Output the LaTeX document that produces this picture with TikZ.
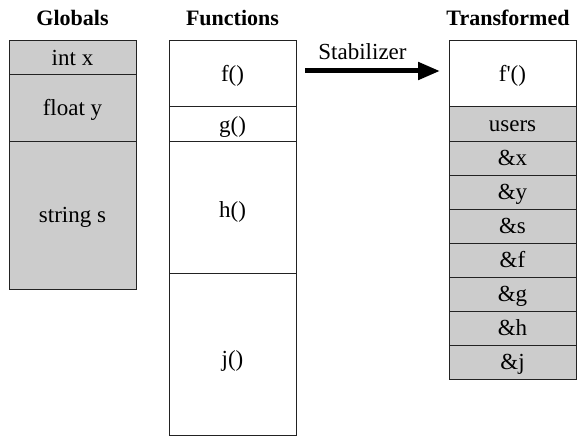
\documentclass[tikz,border=0pt]{standalone}
\usepackage{fontspec}
\setmainfont{Liberation Serif}
\usetikzlibrary{arrows.meta}
\definecolor{cellgray}{HTML}{CCCCCC}
\definecolor{edge}{HTML}{222222}
\begin{document}
\begin{tikzpicture}[x=1pt,y=-1pt,
  cell/.style={draw=edge, line width=1pt, minimum width=127pt, inner sep=0pt, outer sep=0pt,
    anchor=north west, text height=17pt, text depth=2pt, font=\fontsize{23}{27}\selectfont},
  gcell/.style={cell, fill=cellgray},
  wcell/.style={cell, fill=white},
  title/.style={anchor=base, font=\fontsize{22}{26}\selectfont\bfseries, inner sep=0pt},
  lbl/.style={anchor=base, font=\fontsize{23}{27}\selectfont, inner sep=0pt}]
\useasboundingbox (0,0) rectangle (579,436);
% titles
\node[title] (tglob) at (72.5,26) {Globals};
\node[title] (tfun) at (232.5,26) {Functions};
\node[title] (ttra) at (508,26) {Transformed};
% globals
\node[gcell, minimum height=34pt] (ix) at (9,41) {int x};
\node[gcell, minimum height=66pt] (fy) at (9,75) {float y};
\node[gcell, minimum height=148pt] (ss) at (9,141) {string s};
% functions
\node[wcell, minimum height=66pt] (f) at (169,41) {f()};
\node[wcell, minimum height=34pt, text depth=0pt] (g) at (169,107) {g()};
\node[wcell, minimum height=132pt, text height=21pt, text depth=0pt] (h) at (169,141) {h()};
\node[wcell, minimum height=162pt, text height=24pt, text depth=0pt] (j) at (169,273) {j()};
% transformed
\node[wcell, minimum height=66pt] (fp) at (449,41) {f\textquotesingle()};
\node[gcell, minimum height=34pt] (us) at (449,107) {users};
\node[gcell, minimum height=34pt] (ax) at (449,141) {\&x};
\node[gcell, minimum height=34pt] (ay) at (449,175) {\&y};
\node[gcell, minimum height=34pt] (as) at (449,209) {\&s};
\node[gcell, minimum height=34pt] (af) at (449,243) {\&f};
\node[gcell, minimum height=34pt] (ag) at (449,277) {\&g};
\node[gcell, minimum height=34pt] (ah) at (449,311) {\&h};
\node[gcell, minimum height=34pt] (aj) at (449,345) {\&j};
% arrow
\coordinate (arrS) at (305,71);
\coordinate (arrE) at (440,71);
\draw[line width=5pt, -{Triangle[length=22pt,width=17pt]}] (arrS) -- (arrE);
\node[lbl] (stab) at (362.5,60) {Stabilizer};
\end{tikzpicture}
\end{document}
